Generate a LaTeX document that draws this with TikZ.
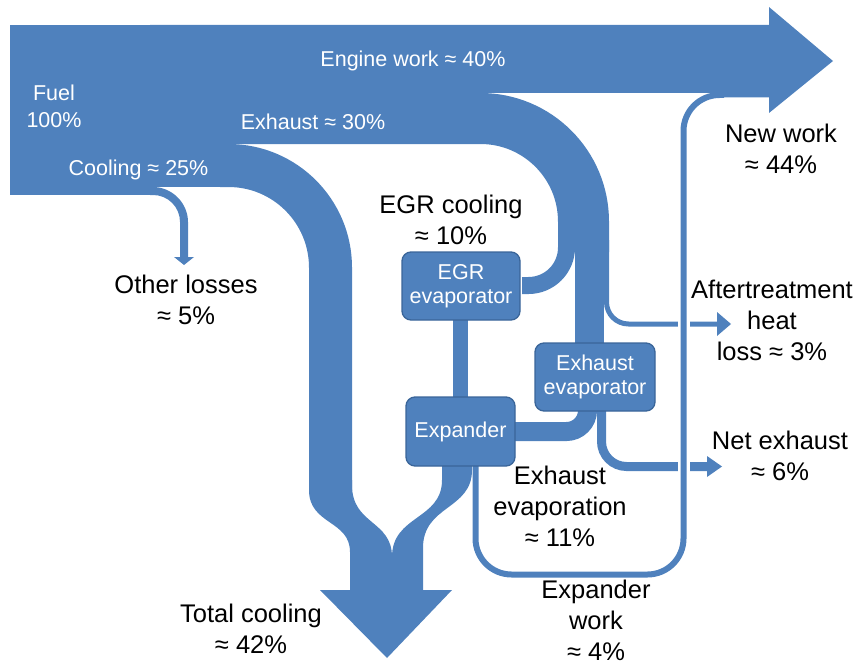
\documentclass[tikz,border=0pt]{standalone}
\usepackage{fontspec}
\setmainfont{Liberation Sans}
\definecolor{sk}{HTML}{4F81BD}
\definecolor{skb}{HTML}{3A6599}
\newcommand\wfont{\fontsize{21.5bp}{27bp}\selectfont}
\newcommand\xfont{\fontsize{21.5bp}{24bp}\selectfont}
\newcommand\bfont{\fontsize{25.5bp}{31bp}\selectfont}
\begin{document}
\begin{tikzpicture}[x=1bp,y=-1bp,
  box/.style={fill=sk, draw=skb, line width=1.3bp, rounded corners=9bp, text=white, align=center, font=\xfont, inner sep=0pt},
  wlab/.style={text=white, font=\wfont, inner sep=0pt, align=center},
  blab/.style={text=black, font=\bfont, inner sep=0pt, align=center},
  flow/.style={draw=sk, line cap=butt}]
\useasboundingbox (0,0) rectangle (856,666);

% fuel block
\fill[sk] (10,25) rectangle (232,187);
\fill[sk] (10,187) rectangle (153,195);
% other losses branch
\fill[sk] (150,187) -- (153,187) .. controls (172,187) and (188,203) .. (188,222)
  -- (188,257) -- (194,257) -- (184,265) -- (174,257) -- (180,257) -- (180,222)
  .. controls (180,207) and (168,195) .. (153,195) -- (150,195) -- cycle;
% engine work band and main arrow
\fill[sk] (150,25) -- (769,25) -- (769,7) -- (833,61) -- (769,113) -- (769,97.5)
  -- (720,97.5) -- (720,93) -- (150,93) -- cycle;
% exhaust band
\draw[flow, line width=51bp, rounded corners=103bp] (220,118.5) -| (583.5,252);
% cooling band
\draw[flow, line width=43bp, rounded corners=102bp] (220,165.5) -| (330.5,490);
% EGR branch
\draw[flow, line width=17bp, rounded corners=38bp] (566.5,240) |- (522,285.5);
% exhaust to exhaust evaporator
\draw[flow, line width=29bp] (589.5,240) -- (589.5,346);
% aftertreatment heat loss
\draw[flow, line width=5bp, rounded corners=22bp] (606.5,240) |- (718,324);
\fill[sk] (717,312) -- (731,324) -- (717,336) -- cycle;
% exhaust evaporator to expander
\draw[flow, line width=19bp, rounded corners=21bp] (587.5,400) |- (510,431.5);
% net exhaust
\draw[flow, line width=9bp, rounded corners=25bp] (601.5,400) |- (708,466.5);
\fill[sk] (707,456) -- (722,466.5) -- (707,477) -- cycle;
% EGR evaporator to expander
\draw[flow, line width=15bp] (460.5,315) -- (460.5,402);
% merge into total cooling
\fill[sk] (309,480) -- (352,480) -- (352,485) .. controls (352,525) and (392,520) .. (392,557)
  -- (392,592) -- (350,592) -- (350,552) .. controls (350,520) and (309,525) .. (309,490) -- cycle;
\fill[sk] (440,460) -- (472,460) -- (472,470) .. controls (472,510) and (423,505) .. (423,548)
  -- (423,592) -- (392,592) -- (392,557) .. controls (392,515) and (442,520) .. (442,480) -- (442,460) -- cycle;
\fill[sk] (320,590) -- (452,590) -- (387,658) -- cycle;
% gaps where the expander work line crosses
\draw[white, line width=12bp] (683.5,316) -- (683.5,332);
\draw[white, line width=12bp] (683.5,458) -- (683.5,475);
% expander work to new work
\draw[flow, line width=6bp, rounded corners=36bp] (475.5,462) |- (683.5,574.5) -- (683.5,95) -- (724,95);

% boxes
\node[box, minimum width=118bp, minimum height=68bp] (egr) at (461,286) {EGR\\evaporator};
\node[box, minimum width=109bp, minimum height=69bp] (exp) at (460.5,431.5) {Expander};
\node[box, minimum width=120bp, minimum height=68bp] (exev) at (595,377) {Exhaust\\evaporator};

% white labels
\node[wlab, anchor=base] (lengine) at (413,67) {Engine work ≈ 40\%};
\node[wlab] (lfuel) at (54,106) {Fuel\\100\%};
\node[wlab, anchor=base] (lexh) at (313,130) {Exhaust ≈ 30\%};
\node[wlab, anchor=base] (lcool) at (138.5,175) {Cooling ≈ 25\%};

% black labels
\node[blab] (lother) at (186,300) {Other losses\\≈ 5\%};
\node[blab] (legrc) at (451,220) {EGR cooling\\≈ 10\%};
\node[blab] (lnew) at (781,149) {New work\\≈ 44\%};
\node[blab] (lafter) at (772,320) {Aftertreatment\\heat\\loss ≈ 3\%};
\node[blab] (lnet) at (780,456) {Net exhaust\\≈ 6\%};
\node[blab] (levap) at (560,506) {Exhaust\\evaporation\\≈ 11\%};
\node[blab] (lexpw) at (596,620) {Expander\\work\\≈ 4\%};
\node[blab] (ltot) at (251,629) {Total cooling\\≈ 42\%};
\end{tikzpicture}
\end{document}
